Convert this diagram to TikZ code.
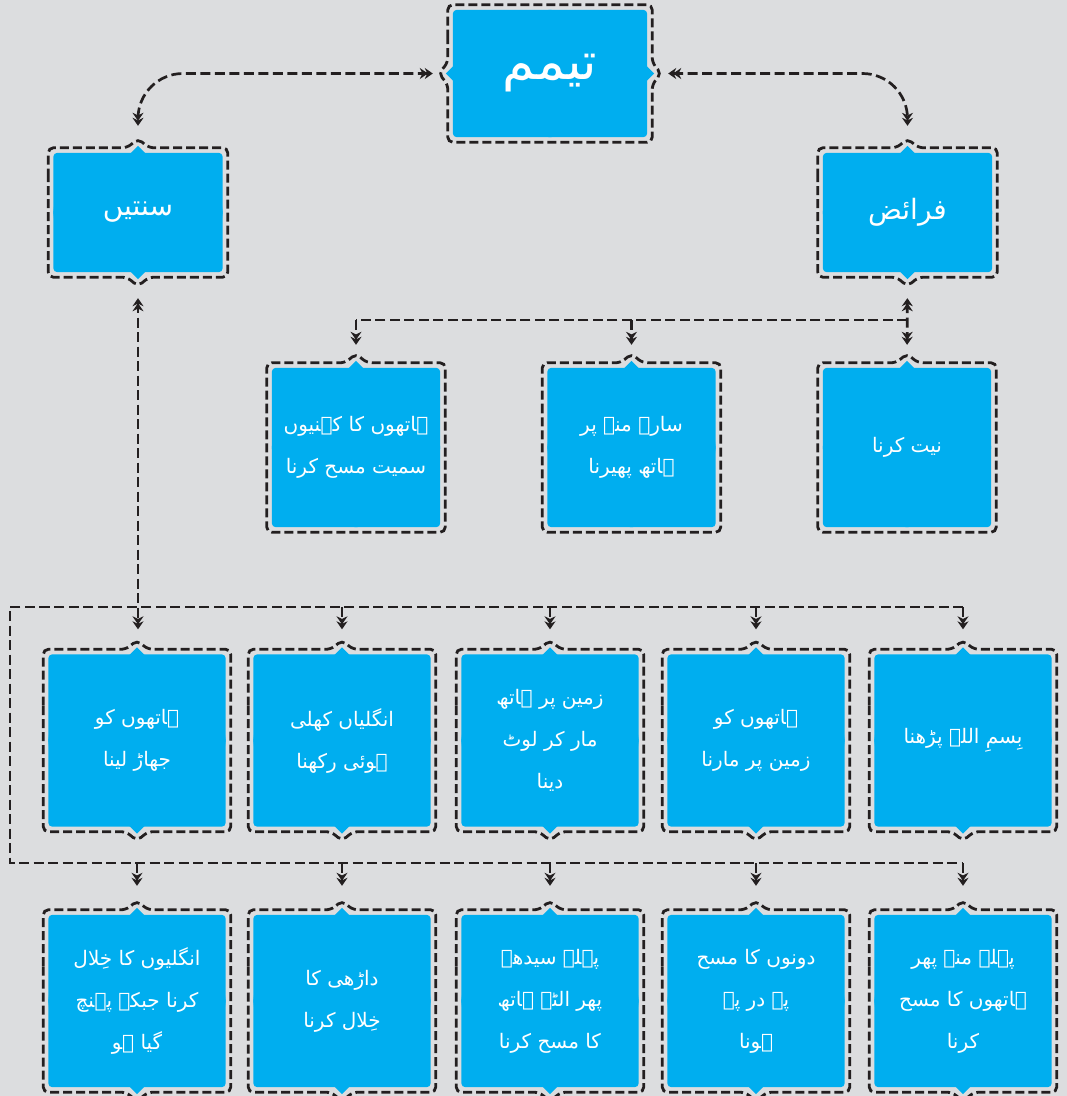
\documentclass[tikz,border=0pt]{standalone}
\usepackage{fontspec}
\usetikzlibrary{arrows.meta,calc,backgrounds}
\TeXXeTstate=1
\newfontfamily\urdufont[Script=Arabic]{DejaVu Sans}
\newcommand\ur[1]{\beginR #1\endR}
\definecolor{cellblue}{HTML}{00AEEF}
\definecolor{ink}{HTML}{231F20}
\definecolor{paper}{HTML}{DCDDDF}
\tikzset{
  dbl/.tip={Stealth[length=8pt,width=11pt,sep=-3pt]Stealth[length=8pt,width=11pt]},
  cell/.style={text=white, align=center, inner sep=0pt,
    font=\urdufont\fontsize{20}{42}\selectfont},
  headcell/.style={cell, minimum width=169pt, minimum height=119pt,
    font=\urdufont\fontsize{28}{32}\selectfont},
  midcell/.style={cell, minimum width=168pt, minimum height=159pt},
  lowcell/.style={cell, minimum width=177pt, minimum height=172pt},
  frameline/.style={draw=ink, line width=2.8pt, dash pattern=on 9pt off 4pt,
    rounded corners=5pt},
  link/.style={draw=ink, line width=2.7pt, dash pattern=on 10pt off 4.5pt}
}
% frame of a cell: node, notch top, bottom, left, right
\newcommand\cellframe[5]{%
  \fill[cellblue, rounded corners=4pt] (#1.north west) rectangle (#1.south east);
  \fill[cellblue] let \p1=(#1.north west), \p2=(#1.south east), \p3=(#1.center) in
    (\x3-8pt,\y1-1pt) -- (\x3,\y1+7pt*#2) -- (\x3+8pt,\y1-1pt) -- cycle
    (\x3-8pt,\y2+1pt) -- (\x3,\y2-7pt*#3) -- (\x3+8pt,\y2+1pt) -- cycle
    (\x1+1pt,\y3+8pt) -- (\x1-7pt*#4,\y3) -- (\x1+1pt,\y3-8pt) -- cycle
    (\x2-1pt,\y3+8pt) -- (\x2+7pt*#5,\y3) -- (\x2-1pt,\y3-8pt) -- cycle;
  \draw[frameline] let \p1=(#1.north west), \p2=(#1.south east), \p3=(#1.center) in
    (\x1-5pt,\y3+30pt) -- (\x1-5pt,\y1+5pt)
    -- (\x3-11pt,\y1+5pt) -- (\x3,\y1+5pt+9pt*#2) -- (\x3+11pt,\y1+5pt)
    -- (\x2+5pt,\y1+5pt)
    -- (\x2+5pt,\y3+11pt) -- (\x2+5pt+9pt*#5,\y3) -- (\x2+5pt,\y3-11pt)
    -- (\x2+5pt,\y2-5pt)
    -- (\x3+11pt,\y2-5pt) -- (\x3,\y2-5pt-9pt*#3) -- (\x3-11pt,\y2-5pt)
    -- (\x1-5pt,\y2-5pt)
    -- (\x1-5pt,\y3-11pt) -- (\x1-5pt-9pt*#4,\y3) -- (\x1-5pt,\y3+11pt) -- cycle;
}
\begin{document}
\begin{tikzpicture}[x=1pt,y=-1pt]
\useasboundingbox (0,0) rectangle (1067,1096);

% Drawing box tayammum
\node[cell, minimum width=194pt, minimum height=127pt,
  font=\urdufont\fontsize{52}{56}\selectfont] (tay) at (550,73.5) {\ur{تیمم}};

% Drawing boxes sunan and faraid
\node[headcell] (sunan) at (138,212.5) {\ur{سنتیں}};
\node[headcell] (faraid) at (907.5,212.5) {\ur{فرائض}};

% Drawing second row
\node[midcell] (r2a) at (356,447.5) {\ur{ہاتھوں کا کہنیوں}\\\ur{سمیت مسح کرنا}};
\node[midcell] (r2b) at (631.5,447.5) {\ur{سارے منہ پر}\\\ur{ہاتھ پھیرنا}};
\node[midcell] (r2c) at (907,447.5) {\ur{نیت کرنا}};

% Drawing third row
\node[lowcell] (r3a) at (137,740.5) {\ur{ہاتھوں کو}\\\ur{جھاڑ لینا}};
\node[lowcell] (r3b) at (342,740.5) {\ur{انگلیاں کھلی}\\\ur{ہوئی رکھنا}};
\node[lowcell] (r3c) at (550,740.5) {\ur{زمین پر ہاتھ}\\\ur{مار کر لوٹ}\\\ur{دینا}};
\node[lowcell] (r3d) at (756,740.5) {\ur{ہاتھوں کو}\\\ur{زمین پر مارنا}};
\node[lowcell] (r3e) at (963,740.5) {\ur{بِسمِ اللہ پڑھنا}};

% Drawing fourth row
\node[lowcell] (r4a) at (137,1001) {\ur{انگلیوں کا خِلال}\\\ur{کرنا جبکہ پہنچ}\\\ur{گیا ہو}};
\node[lowcell] (r4b) at (342,1001) {\ur{داڑھی کا}\\\ur{خِلال کرنا}};
\node[lowcell] (r4c) at (550,1001) {\ur{پہلے سیدھے}\\\ur{پھر الٹے ہاتھ}\\\ur{کا مسح کرنا}};
\node[lowcell] (r4d) at (756,1001) {\ur{دونوں کا مسح}\\\ur{پے در پے}\\\ur{ہونا}};
\node[lowcell] (r4e) at (963,1001) {\ur{پہلے منہ پھر}\\\ur{ہاتھوں کا مسح}\\\ur{کرنا}};

% Drawing links from tayammum
\draw[link, rounded corners=45pt, {dbl}-{dbl}, shorten <=20pt, shorten >=27pt]
  (tay.west) -| (sunan.north);
\draw[link, rounded corners=45pt, {dbl}-{dbl}, shorten <=21pt, shorten >=27pt]
  (tay.east) -| (faraid.north);

% Drawing links from faraid
\coordinate (fjoin) at ($(faraid.south)!0.5!(r2c.north)$);
\draw[link, {dbl}-{dbl}, shorten <=26pt, shorten >=23pt] (faraid.south) -- (r2c.north);
\draw[link] (fjoin) -- (r2a.north |- fjoin);
\foreach \n in {r2a,r2b}
  \draw[link, -{dbl}, shorten >=23pt] (\n.north |- fjoin) -- (\n.north);

% Drawing links from sunan
\coordinate (bus1) at (10,607);
\coordinate (bus2) at (10,863);
\draw[link, {dbl}-{dbl}, shorten <=26pt, shorten >=25pt]
  (sunan.south) -- (sunan.south |- r3a.north);
\draw[link] (r3e.north |- bus1) -- (bus1) -- (bus2) -- (r4e.north |- bus2);
\foreach \n in {r3b,r3c,r3d,r3e}
  \draw[link, -{dbl}, shorten >=25pt] (\n.north |- bus1) -- (\n.north);
\foreach \n in {r4a,r4b,r4c,r4d,r4e}
  \draw[link, -{dbl}, shorten >=29pt] (\n.north |- bus2) -- (\n.north);

% Drawing frames
\begin{pgfonlayer}{background}
\fill[paper] (0,0) rectangle (1067,1096);
\foreach \name/\up/\dn/\lf/\rt in {tay/0/0/1/1, sunan/1/1/0/0, faraid/1/1/0/0,
    r2a/1/0/0/0, r2b/1/0/0/0, r2c/1/0/0/0,
    r3a/1/1/0/0, r3b/1/1/0/0, r3c/1/1/0/0, r3d/1/1/0/0, r3e/1/1/0/0,
    r4a/1/1/0/0, r4b/1/1/0/0, r4c/1/1/0/0, r4d/1/1/0/0, r4e/1/1/0/0}
  \cellframe{\name}{\up}{\dn}{\lf}{\rt};
\end{pgfonlayer}
\end{tikzpicture}
\end{document}
